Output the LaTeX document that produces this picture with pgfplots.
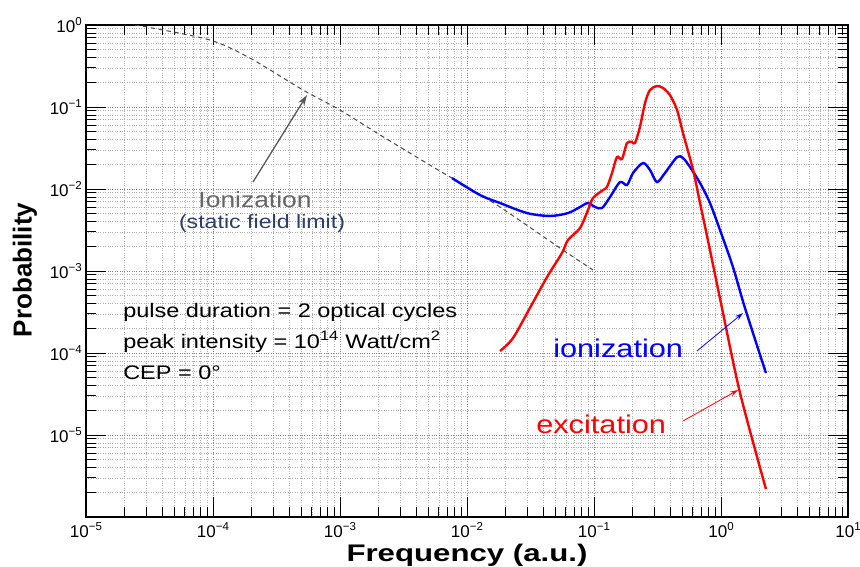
\documentclass[border=0pt]{standalone}
\usepackage{fontspec}
\setmainfont{Liberation Sans}
\usepackage{pgfplots}
\pgfplotsset{compat=1.18}
\usetikzlibrary{arrows.meta}
\definecolor{slab}{RGB}{45,62,110}
\newcommand{\tl}[1]{10\raisebox{0.42em}{\fontsize{11.5}{12}\selectfont #1}}
\begin{document}
\begin{tikzpicture}
\useasboundingbox (-86pt,-49pt) rectangle (774pt,517pt);
\begin{axis}[
  scale only axis, width=762pt, height=492pt,
  at={(0pt,0pt)}, anchor=south west,
  xmode=log, ymode=log,
  xmin=1e-5, xmax=10, ymin=1e-6, ymax=1,
  xtick={1e-5,1e-4,1e-3,1e-2,1e-1,1,10},
  xticklabels={\tl{−5},\tl{−4},\tl{−3},\tl{−2},\tl{−1},\tl{0},\tl{1}},
  ytick={1e-6,1e-5,1e-4,1e-3,1e-2,1e-1,1},
  yticklabels={,\tl{−5},\tl{−4},\tl{−3},\tl{−2},\tl{−1},\tl{0}},
  tick label style={font=\fontsize{17}{19}\selectfont},
  xticklabel style={inner sep=0pt, yshift=-5pt},
  yticklabel style={inner sep=1pt, xshift=-3pt},
  tick align=inside,
  major tick length=20pt, minor tick length=10pt,
  every tick/.style={black, line width=0.9pt},
  axis line style={line width=1.6pt},
  xmajorgrids, ymajorgrids, xminorgrids, yminorgrids,
  major grid style={dotted, black!50, line width=0.55pt},
  minor grid style={dotted, black!32, line width=0.55pt},
  clip mode=individual,
]
% static field limit (dashed)
\addplot[black!72, line width=1pt, dash pattern=on 4.5pt off 3.5pt, smooth] coordinates {
(2.43e-5,1.0) (3.02e-5,0.946) (9.46e-5,0.656) (1.95e-4,0.396) (5.12e-4,0.161)
(1e-3,0.0919) (2.07e-3,0.0456) (5.92e-3,0.01706) (7.62e-3,0.0136) (0.0172,6.38e-3)
(0.0570,1.80e-3) (0.0982,1.03e-3)};
% ionization
\addplot[blue, line width=2.4pt, smooth, tension=0.5] coordinates {
(7.62e-3,1.36e-2) (0.01265,8.45e-3) (0.0182,6.75e-3) (0.0297,5.09e-3) (0.0451,4.69e-3)
(0.0624,5.09e-3) (0.0776,6.03e-3) (0.0897,6.75e-3) (0.102,6.03e-3) (0.1156,5.86e-3)
(0.1337,7.98e-3) (0.1603,1.216e-2) (0.182,1.119e-2) (0.203,1.567e-2) (0.2432,2.075e-2)
(0.276,1.706e-2) (0.3133,1.216e-2) (0.362,1.567e-2) (0.451,2.455e-2) (0.502,2.39e-2)
(0.570,1.854e-2) (0.684,1.183e-2) (0.819,6.75e-3) (0.982,3.16e-3) (1.242,1.12e-3)
(1.545,3.54e-4) (2.26,5.70e-5)};
% excitation
\addplot[red, line width=2.4pt, smooth, tension=0.5] coordinates {
(0.0182,1.057e-4) (0.0230,1.52e-4) (0.0313,3.54e-4) (0.0427,8.45e-4) (0.0560,1.66e-3)
(0.0624,2.39e-3) (0.0776,3.34e-3) (0.0897,5.55e-3) (0.0982,7.76e-3) (0.1178,9.72e-3)
(0.1265,1.057e-2) (0.1387,1.567e-2) (0.1517,2.455e-2) (0.166,2.32e-2) (0.182,3.64e-2)
(0.199,3.74e-2) (0.2104,3.64e-2) (0.230,5.70e-2) (0.2523,0.1119) (0.276,0.161)
(0.3133,0.1803) (0.349,0.1706) (0.396,0.140) (0.451,0.0919) (0.502,0.0482)
(0.603,1.706e-2) (0.684,6.75e-3) (0.819,1.80e-3) (1.018,3.54e-4) (1.413,3.25e-5)
(2.26,2.19e-6)};
% annotations
\draw[-{Stealth[length=11pt,width=7pt]}, black!65, line width=1.3pt]
  (rel axis cs:0.2192,0.6809) -- (rel axis cs:0.2900,0.8577);
\node[anchor=base, inner sep=0pt, xscale=1.2, text=black!60, font=\fontsize{22}{26}\selectfont]
  at (rel axis cs:0.2218,0.630) {Ionization};
\node[anchor=base, inner sep=0pt, xscale=1.2, text=slab, font=\fontsize{19.3}{23}\selectfont]
  at (rel axis cs:0.231,0.5854) {(static field limit)};
\node[anchor=base west, inner sep=0pt, xscale=1.2, font=\fontsize{19.6}{23}\selectfont]
  at (rel axis cs:0.0486,0.4045) {pulse duration = 2 optical cycles};
\node[anchor=base west, inner sep=0pt, xscale=1.2, font=\fontsize{19.6}{23}\selectfont]
  at (rel axis cs:0.0486,0.3425) {peak intensity = 10\textsuperscript{14} Watt/cm\textsuperscript{2}};
\node[anchor=base west, inner sep=0pt, xscale=1.2, font=\fontsize{19.6}{23}\selectfont]
  at (rel axis cs:0.0486,0.2805) {CEP = 0°};
\node[anchor=base west, inner sep=0pt, xscale=1.2, text=blue, font=\fontsize{25.6}{30}\selectfont]
  at (rel axis cs:0.6129,0.3252) {ionization};
\node[anchor=base west, inner sep=0pt, xscale=1.2, text=red, font=\fontsize{25.6}{30}\selectfont]
  at (rel axis cs:0.5906,0.1707) {excitation};
\draw[-{Stealth[length=8pt,width=5pt]}, blue, line width=0.8pt]
  (rel axis cs:0.8018,0.3374) -- (rel axis cs:0.8622,0.4146);
\draw[-{Stealth[length=8pt,width=5pt]}, red, line width=0.8pt]
  (rel axis cs:0.7835,0.1951) -- (rel axis cs:0.8556,0.2581);
\node[anchor=base, inner sep=0pt, xscale=1.3, font=\bfseries\fontsize{24}{28}\selectfont]
  at (rel axis cs:0.5,-0.0900) {Frequency (a.u.)};
\node[anchor=base, inner sep=0pt, rotate=90, font=\bfseries\fontsize{26}{30}\selectfont]
  at (rel axis cs:-0.0715,0.502) {Probability};
\end{axis}
\end{tikzpicture}
\end{document}
